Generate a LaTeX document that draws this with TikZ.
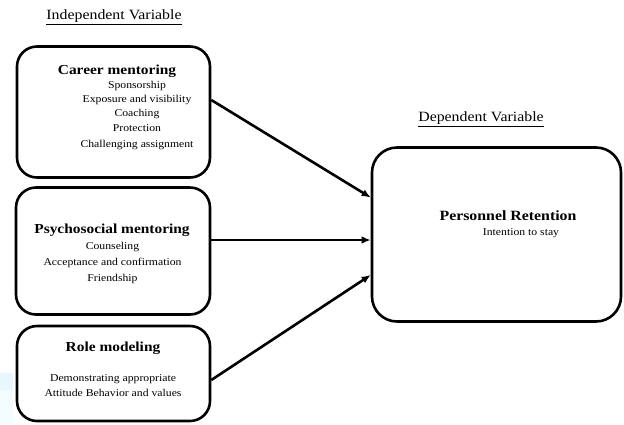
\documentclass[tikz,border=0pt]{standalone}
\usepackage{fontspec}
\setmainfont{Liberation Serif}[FakeStretch=1.12]
\usetikzlibrary{arrows.meta}
\begin{document}
\begin{tikzpicture}[x=1bp,y=-1bp,
  box/.style={draw, line width=2.6bp, rounded corners=20bp, inner sep=0pt},
  head/.style={font=\fontsize{13.8}{16}\selectfont\bfseries, inner sep=0pt},
  item/.style={font=\fontsize{10.5}{14}\selectfont, inner sep=0pt},
  label/.style={font=\fontsize{14.2}{17}\selectfont, inner sep=0pt},
  arr/.style={line width=2.6bp, -{Latex[length=9bp,width=7.5bp]}}]
\useasboundingbox (0,0) rectangle (624,424);
% faint tint at the lower left edge
\fill[cyan!10] (0,373) rectangle (13,390);
\fill[cyan!5] (0,390) rectangle (13,424);

% group captions
\node[label] (indep) at (114,17) {\underline{Independent Variable}};
\node[label] (dep) at (481,119) {\underline{Dependent Variable}};

% independent variables
\node[box, minimum width=193bp, minimum height=131bp] (career) at (113.5,112) {};
\node[head] (careerT) at (117,71) {Career mentoring};
\node[item] (c1) at (137,86) {Sponsorship};
\node[item] (c2) at (137,100) {Exposure and visibility};
\node[item] (c3) at (137,114) {Coaching};
\node[item] (c4) at (137,128) {Protection};
\node[item] (c5) at (137,145) {Challenging assignment};

\node[box, minimum width=194bp, minimum height=127bp] (psycho) at (113,251) {};
\node[head] (psychoT) at (112,230) {Psychosocial mentoring};
\node[item] (p1) at (112.5,247) {Counseling};
\node[item] (p2) at (112.5,263) {Acceptance and confirmation};
\node[item] (p3) at (112.5,279) {Friendship};

\node[box, minimum width=193bp, minimum height=95bp] (role) at (113.5,373.5) {};
\node[head] (roleT) at (113,348) {Role modeling};
\node[item] (r1) at (113,379) {Demonstrating appropriate};
\node[item] (r2) at (113,393) {Attitude Behavior and values};

% dependent variable
\node[box, rounded corners=25bp, minimum width=249bp, minimum height=174bp] (ret) at (496.5,234.5) {};
\node[head, font=\fontsize{14.2}{17}\selectfont\bfseries] (retT) at (508,216) {Personnel Retention};
\node[item] (ret1) at (521,233) {Intention to stay};

% influences
\draw[arr] ([yshift=12bp]career.east) -- ([yshift=37bp]ret.west);
\coordinate (psychoOut) at ([yshift=11bp]psycho.east);
\draw[arr] (psychoOut) -- (psychoOut -| ret.west);
\draw[arr] ([yshift=-6.5bp]role.east) -- ([yshift=-40.5bp]ret.west);
\end{tikzpicture}
\end{document}
